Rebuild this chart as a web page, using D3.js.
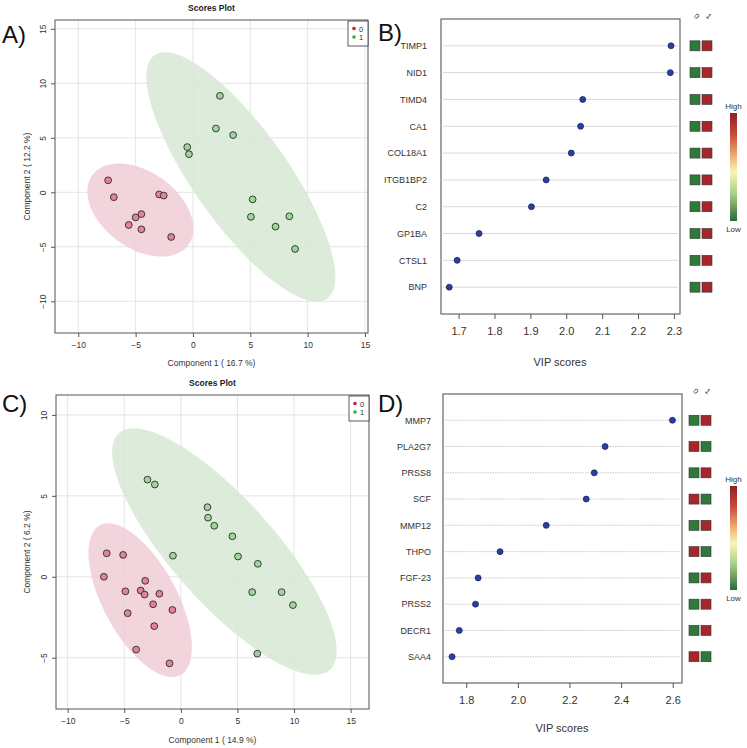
<!DOCTYPE html>
<html><head><meta charset="utf-8">
<script src="https://cdn.jsdelivr.net/npm/d3@7"></script>
<style>body{margin:0;background:#fff}svg{display:block}text{font-family:"Liberation Sans",Arial,sans-serif}</style>
</head><body>
<svg id="chart" width="747" height="748"></svg>
<script>
// ---------- DATA ----------
// Panel A scores (group 0 = red, group 1 = green)
const aX0 = [-7.4, -6.9, -2.95, -2.55, -4.5, -5.0, -5.6, -4.5, -1.9];
const aY0 = [1.1, -0.45, -0.2, -0.3, -2.0, -2.3, -3.0, -3.4, -4.1];
const aX1 = [2.35, 2.0, 3.5, -0.5, -0.35, 5.2, 5.05, 8.4, 7.2, 8.9];
const aY1 = [8.85, 5.85, 5.25, 4.15, 3.5, -0.65, -2.25, -2.2, -3.15, -5.2];
// Panel C scores
const cX0 = [-6.55, -5.1, -6.8, -3.15, -4.9, -3.55, -3.2, -1.9, -2.45, -0.75, -4.7, -2.35, -3.95, -1.0];
const cY0 = [1.45, 1.35, 0.0, -0.25, -0.9, -0.85, -1.1, -1.05, -1.7, -2.05, -2.25, -3.05, -4.5, -5.35];
const cX1 = [-2.95, -2.3, 2.35, 2.4, 2.95, 4.55, -0.7, 5.05, 6.8, 6.3, 8.9, 9.9, 6.75];
const cY1 = [6.0, 5.7, 4.3, 3.65, 3.15, 2.5, 1.3, 1.25, 0.8, -0.95, -0.95, -1.75, -4.75];
const scoreTicks = [-10, -5, 0, 5, 10, 15];
const scoreTicksCY = [-5, 0, 5, 10];
// Panel B VIP
const bNames = ["TIMP1", "NID1", "TIMD4", "CA1", "COL18A1", "ITGB1BP2", "C2", "GP1BA", "CTSL1", "BNP"];
const bVip = [2.292, 2.29, 2.046, 2.04, 2.014, 1.944, 1.903, 1.757, 1.696, 1.674];
const bHigh = [1, 1, 1, 1, 1, 1, 1, 1, 1, 1]; // index of the group that is high
const bTicks = [1.7, 1.8, 1.9, 2.0, 2.1, 2.2, 2.3];
// Panel D VIP
const dNames = ["MMP7", "PLA2G7", "PRSS8", "SCF", "MMP12", "THPO", "FGF-23", "PRSS2", "DECR1", "SAA4"];
const dVip = [2.599, 2.338, 2.296, 2.265, 2.11, 1.931, 1.846, 1.836, 1.773, 1.745];
const dHigh = [1, 0, 1, 0, 1, 0, 1, 1, 1, 0];
const dTicks = [1.8, 2.0, 2.2, 2.4, 2.6];
const groups = ["0", "1"];

// ---------- DRAW ----------
const svg = d3.select("#chart");
svg.append("rect").attr("width", 747).attr("height", 748).attr("fill", "#fff");

const COL = {
  redPt: "#e4829a", greenPt: "#9fd49b",
  redEll: "#f0ccd6", greenEll: "#d7e9d4",
  grid: "#e4e4e4", axis: "#555",
  heatHi: "#a7262c", heatLo: "#2f7a3b", vipPt: "#2a3fa6"
};

function ellipsePts(xs, ys) {
  const n = xs.length;
  const mx = d3.mean(xs), my = d3.mean(ys);
  let sxx = 0, syy = 0, sxy = 0;
  for (let i = 0; i < n; i++) {
    sxx += (xs[i] - mx) ** 2; syy += (ys[i] - my) ** 2; sxy += (xs[i] - mx) * (ys[i] - my);
  }
  sxx /= (n - 1); syy /= (n - 1); sxy /= (n - 1);
  const sx = Math.sqrt(sxx), sy = Math.sqrt(syy);
  const r = sxy / (sx * sy);
  const dd = Math.acos(r);
  const t = Math.sqrt(5.991465); // qchisq(0.95, 2)
  return d3.range(0, 101).map(k => {
    const a = k / 100 * 2 * Math.PI;
    return [mx + t * sx * Math.cos(a + dd / 2), my + t * sy * Math.cos(a - dd / 2)];
  });
}

function scoresPlot(o) {
  const g = svg.append("g");
  const x = d3.scaleLinear().domain(o.xd).range([o.l, o.r]);
  const y = d3.scaleLinear().domain(o.yd).range([o.b, o.t]);
  // grid
  g.selectAll(".gx").data(o.xt).join("line")
    .attr("x1", d => x(d)).attr("x2", d => x(d)).attr("y1", o.t).attr("y2", o.b)
    .attr("stroke", COL.grid).attr("stroke-width", 1);
  g.selectAll(".gy").data(o.yt).join("line")
    .attr("y1", d => y(d)).attr("y2", d => y(d)).attr("x1", o.l).attr("x2", o.r)
    .attr("stroke", COL.grid).attr("stroke-width", 1);
  // ellipses
  const line = d3.line().x(d => x(d[0])).y(d => y(d[1]));
  [[o.x0, o.y0, COL.redEll], [o.x1, o.y1, COL.greenEll]].forEach(([xs, ys, c]) => {
    g.append("path").attr("d", line(ellipsePts(xs, ys)) + "Z").attr("fill", c).attr("fill-opacity", 0.85).attr("stroke", "none");
  });
  // points
  [[o.x0, o.y0, COL.redPt], [o.x1, o.y1, COL.greenPt]].forEach(([xs, ys, c]) => {
    g.append("g").selectAll("circle").data(xs.map((v, i) => [v, ys[i]])).join("circle")
      .attr("cx", d => x(d[0])).attr("cy", d => y(d[1])).attr("r", 3.4)
      .attr("fill", c).attr("stroke", "#2a2a2a").attr("stroke-width", 0.9);
  });
  // box
  g.append("rect").attr("x", o.l).attr("y", o.t).attr("width", o.r - o.l).attr("height", o.b - o.t)
    .attr("fill", "none").attr("stroke", COL.axis).attr("stroke-width", 1);
  // axes
  const xa = g.append("g").attr("transform", `translate(0,${o.b})`)
    .call(d3.axisBottom(x).tickValues(o.xt).tickSize(4).tickPadding(5));
  xa.select(".domain").remove();
  xa.selectAll("line").attr("stroke", COL.axis);
  xa.selectAll("text").attr("font-size", 8.5).attr("fill", "#333");
  const ya = g.append("g").attr("transform", `translate(${o.l},0)`)
    .call(d3.axisLeft(y).tickValues(o.yt).tickSize(4).tickPadding(0));
  ya.select(".domain").remove();
  ya.selectAll("line").attr("stroke", COL.axis);
  ya.selectAll("text").attr("font-size", 8.5).attr("fill", "#333")
    .attr("text-anchor", "middle").attr("dy", 0).attr("x", 0).attr("y", 0)
    .attr("transform", "translate(-9,0) rotate(-90)");
  // titles
  const cx = (o.l + o.r) / 2;
  g.append("text").attr("x", cx).attr("y", o.t - 9).attr("text-anchor", "middle")
    .attr("font-size", 8.5).attr("font-weight", "bold").attr("fill", "#222").text("Scores Plot");
  g.append("text").attr("x", cx).attr("y", o.xlabY).attr("text-anchor", "middle")
    .attr("font-size", 8.5).attr("fill", "#333").text(o.xlab);
  g.append("text").attr("transform", `translate(30,${(o.t + o.b) / 2}) rotate(-90)`).attr("text-anchor", "middle")
    .attr("font-size", 8.5).attr("fill", "#333").text(o.ylab);
  // legend
  const lg = g.append("g").attr("transform", `translate(${o.r - 20},${o.t + 1})`);
  lg.append("rect").attr("width", 20).attr("height", 25).attr("fill", "#fff").attr("stroke", "#333").attr("stroke-width", 0.8);
  groups.forEach((gname, i) => {
    lg.append("circle").attr("cx", 6).attr("cy", 7.5 + i * 8.5).attr("r", 1.8).attr("fill", i ? "#2fb32f" : "#e0143c");
    lg.append("text").attr("x", 11).attr("y", 10.5 + i * 8.5).attr("font-size", 7.5).attr("fill", "#333").text(gname);
  });
}

function vipPlot(o) {
  const g = svg.append("g");
  const x = d3.scaleLinear().domain(o.xd).range([o.l, o.r]);
  const y = d3.scaleLinear().domain([0, o.names.length + 1]).range([o.t, o.b]);
  const rows = o.names.map((n, i) => ({ n, v: o.vip[i], hi: o.hi[i], yy: y(i + 1) }));
  // row lines
  g.selectAll(".rl").data(rows).join("line")
    .attr("x1", o.l + 2).attr("x2", o.r - 2).attr("y1", d => d.yy).attr("y2", d => d.yy)
    .attr("stroke", o.dotted ? "#c9c9c9" : "#d8d8d8").attr("stroke-width", 1)
    .attr("stroke-dasharray", o.dotted ? "1.5,1" : null);
  // points
  g.selectAll("circle").data(rows).join("circle")
    .attr("cx", d => x(d.v)).attr("cy", d => d.yy).attr("r", 3)
    .attr("fill", COL.vipPt).attr("stroke", "#1a1a4a").attr("stroke-width", 0.7);
  // labels
  g.selectAll(".lab").data(rows).join("text")
    .attr("x", o.labX).attr("y", d => d.yy + 3.3).attr("text-anchor", "end")
    .attr("font-size", 9).attr("fill", "#333").text(d => d.n);
  // box
  g.append("rect").attr("x", o.l).attr("y", o.t).attr("width", o.r - o.l).attr("height", o.b - o.t)
    .attr("fill", "none").attr("stroke", "#666").attr("stroke-width", 1.2);
  // x axis
  const xa = g.append("g").attr("transform", `translate(0,${o.b})`)
    .call(d3.axisBottom(x).tickValues(o.ticks).tickFormat(d3.format(".1f")).tickSize(5).tickPadding(8));
  xa.select(".domain").remove();
  xa.selectAll("line").attr("stroke", "#555");
  xa.selectAll("text").attr("font-size", 11).attr("fill", "#333");
  g.append("text").attr("x", o.xlabX).attr("y", o.xlabY).attr("text-anchor", "middle")
    .attr("font-size", 11).attr("fill", "#333").text("VIP scores");
  // heat cells
  const cw = 10, gap = 2;
  rows.forEach(d => {
    groups.forEach((gn, j) => {
      const isHi = (j === d.hi);
      g.append("rect").attr("x", o.hx + j * (cw + gap)).attr("y", d.yy - 5).attr("width", cw).attr("height", 10)
        .attr("fill", isHi ? COL.heatHi : COL.heatLo).attr("stroke", "#333").attr("stroke-width", 0.6);
    });
  });
  groups.forEach((gn, j) => {
    g.append("text").attr("transform", `translate(${o.hx + j * (cw + gap) + 5},${o.t - 1}) rotate(45)`)
      .attr("text-anchor", "middle").attr("font-size", 7.5).attr("fill", "#333").text(gn);
  });
  // colour key
  const gid = "grad" + o.id;
  const grad = svg.append("defs").append("linearGradient").attr("id", gid)
    .attr("x1", 0).attr("x2", 0).attr("y1", 0).attr("y2", 1);
  [["0%", "#8e1f24"], ["20%", "#c94a3a"], ["40%", "#f0b070"], ["55%", "#f6f6b8"], ["75%", "#a9cf86"], ["100%", "#2b6a35"]]
    .forEach(([off, c]) => grad.append("stop").attr("offset", off).attr("stop-color", c));
  g.append("rect").attr("x", 730).attr("y", o.keyT).attr("width", 7).attr("height", o.keyB - o.keyT)
    .attr("fill", `url(#${gid})`);
  g.append("text").attr("x", 733.5).attr("y", o.keyT - 4).attr("text-anchor", "middle").attr("font-size", 8).attr("fill", "#333").text("High");
  g.append("text").attr("x", 733.5).attr("y", o.keyB + 11).attr("text-anchor", "middle").attr("font-size", 8).attr("fill", "#333").text("Low");
}

scoresPlot({ l: 55, r: 368, t: 20, b: 333, xd: [-12.03, 15.26], yd: [-12.91, 15.81],
  xt: scoreTicks, yt: scoreTicks, x0: aX0, y0: aY0, x1: aX1, y1: aY1,
  xlab: "Component 1 ( 16.7 %)", ylab: "Component 2 ( 12.2 %)", xlabY: 366 });
scoresPlot({ l: 56, r: 369, t: 395, b: 709, xd: [-11.03, 16.62], yd: [-8.17, 11.23],
  xt: scoreTicks, yt: scoreTicksCY, x0: cX0, y0: cY0, x1: cX1, y1: cY1,
  xlab: "Component 1 ( 14.9 %)", ylab: "Component 2 ( 6.2 %)", xlabY: 743 });
vipPlot({ id: "B", l: 441, r: 680, t: 19, b: 314, xd: [1.651, 2.317], names: bNames, vip: bVip, hi: bHigh,
  ticks: bTicks, labX: 427, xlabX: 560, xlabY: 366, hx: 690, keyT: 113, keyB: 221, dotted: false });
vipPlot({ id: "D", l: 443, r: 682, t: 394, b: 683, xd: [1.710, 2.636], names: dNames, vip: dVip, hi: dHigh,
  ticks: dTicks, labX: 431, xlabX: 562, xlabY: 732, hx: 689, keyT: 486, keyB: 590, dotted: true });

// panel letters
[["A)", 2, 43], ["B)", 378, 41], ["C)", 2, 412], ["D)", 378, 412]].forEach(([t, px, py]) => {
  svg.append("text").attr("x", px).attr("y", py).attr("font-family", "Lato, 'Open Sans', sans-serif")
    .attr("font-size", 24).attr("fill", "#111").text(t);
});
</script>
</body></html>
